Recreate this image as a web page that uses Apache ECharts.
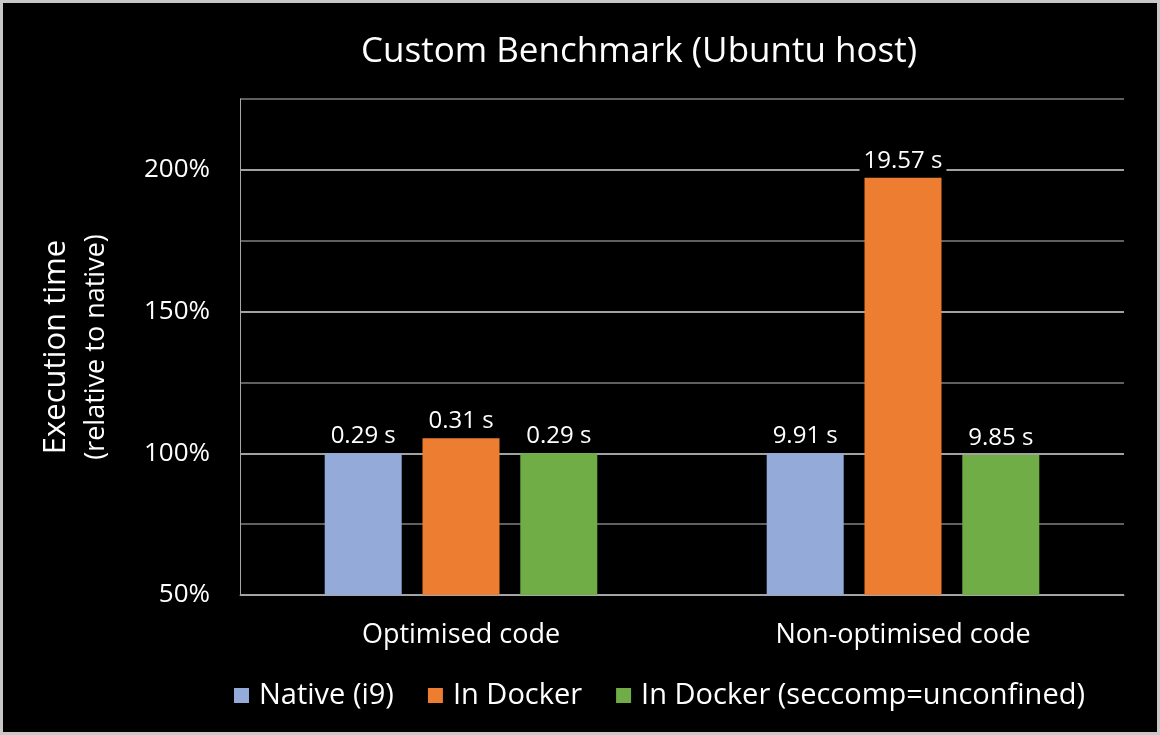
<!DOCTYPE html>
<html>
<head>
<meta charset="utf-8">
<script src="https://cdn.jsdelivr.net/npm/echarts@6/dist/echarts.min.js"></script>
<style>
  html, body { margin: 0; padding: 0; background: #c8c8c8; }
  #main { position: absolute; left: 3px; top: 3px; width: 1154px; height: 729px; background: #000; }
</style>
</head>
<body>
<div id="main"></div>
<script>
// data
var categories = ['Optimised code', 'Non-optimised code'];
var seriesNames = ['Native (i9)', 'In Docker', 'In Docker (seccomp=unconfined)'];
var nativeRel = [100, 100];
var dockerRel = [105.3, 197.2];
var unconfinedRel = [100, 99.4];
var nativeTime = ['0.29 s', '9.91 s'];
var dockerTime = ['0.31 s', '19.57 s'];
var unconfinedTime = ['0.29 s', '9.85 s'];
var colors = ['#94abd9', '#ed7d31', '#70ad47'];

var font = '"Open Sans", sans-serif';

function makeSeries(name, values, times, color) {
  return {
    name: name,
    type: 'bar',
    barWidth: 77,
    barGap: '27%',
    data: values,
    itemStyle: { color: color },
    label: {
      show: true,
      position: 'top',
      distance: 5,
      color: '#fff',
      fontSize: 24,
      fontFamily: font,
      backgroundColor: '#000',
      padding: [0, 4],
      formatter: function (p) { return times[p.dataIndex]; }
    }
  };
}

var chart = echarts.init(document.getElementById('main'));
chart.setOption({
  backgroundColor: '#000',
  animation: false,
  title: {
    text: 'Custom Benchmark (Ubuntu host)',
    left: 631,
    textAlign: 'center',
    top: 27,
    textStyle: { color: '#fff', fontSize: 35, fontWeight: 'normal', fontFamily: font }
  },
  legend: {
    bottom: 17,
    left: 226,
    itemWidth: 15,
    itemHeight: 15,
    itemGap: 34,
    icon: 'rect',
    textStyle: { color: '#fff', fontSize: 29, fontFamily: font, padding: [0, 0, 0, 5] },
    data: seriesNames
  },
  grid: { left: 237, right: 33, top: 96, bottom: 137 },
  xAxis: {
    type: 'category',
    data: categories,
    axisLine: { lineStyle: { color: '#a6a6a6', width: 1 } },
    axisTick: { show: false },
    axisLabel: { color: '#fff', fontSize: 27, fontFamily: font, margin: 27 }
  },
  yAxis: {
    type: 'value',
    min: 50,
    max: 225,
    interval: 25,
    name: '{a|Execution time}\n{b|(relative to native)}',
    nameLocation: 'middle',
    nameGap: 126,
    nameRotate: 90,
    nameTextStyle: {
      color: '#fff',
      fontFamily: font,
      rich: {
        a: { fontSize: 31, color: '#fff', fontFamily: font, lineHeight: 44 },
        b: { fontSize: 27, color: '#fff', fontFamily: font, lineHeight: 36 }
      }
    },
    axisLine: { show: true, lineStyle: { color: '#a6a6a6', width: 1 } },
    axisTick: { show: false },
    axisLabel: {
      color: '#fff',
      fontSize: 26,
      fontFamily: font,
      margin: 30,
      formatter: function (v) { return (v - 50) % 50 === 0 ? v + '%' : ''; }
    },
    splitLine: {
      show: true,
      lineStyle: { color: ['#d9d9d9', '#7f7f7f'], width: 1.5 }
    }
  },
  series: [
    makeSeries(seriesNames[0], nativeRel, nativeTime, colors[0]),
    makeSeries(seriesNames[1], dockerRel, dockerTime, colors[1]),
    makeSeries(seriesNames[2], unconfinedRel, unconfinedTime, colors[2])
  ]
});
</script>
</body>
</html>
